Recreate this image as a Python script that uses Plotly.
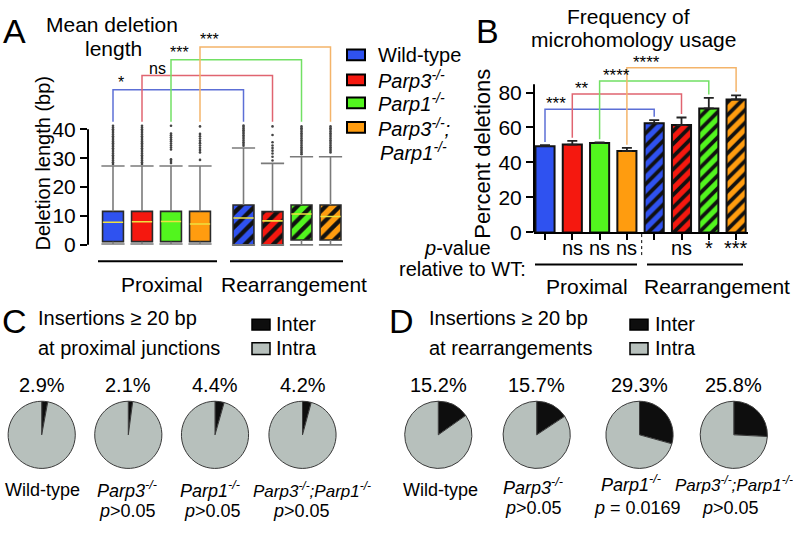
import plotly.graph_objects as go

W, H = 793, 533
FONT = "Liberation Sans, Arial, sans-serif"

# ---------------- data ----------------
genotype_labels = ["Wild-type", "<i>Parp3<sup>-/-</sup></i>", "<i>Parp1<sup>-/-</sup></i>",
                   "<i>Parp3<sup>-/-</sup>;Parp1<sup>-/-</sup></i>"]
colors = ["#2f52f0", "#f5180f", "#52f51e", "#ff9c0f"]
bracket_colors = ["#5c6fd6", "#e06470", "#72e064", "#f4b46a"]

# Panel A: deletion length box summaries (Proximal x4, Rearrangement x4)
box_low = [0.3, 0.3, 0.3, 0.3, 0.0, 0.0, 0.0, 0.0]
box_q1 = [1.1, 1.1, 1.1, 1.1, 0.0, 0.0, 1.7, 1.7]
box_med = [7.8, 8.0, 8.1, 7.2, 9.3, 8.3, 10.7, 9.8]
box_q3 = [11.6, 11.6, 11.6, 11.6, 13.8, 11.5, 13.8, 13.8]
box_high = [27.3, 27.3, 27.3, 27.3, 33.5, 28.2, 30.5, 30.5]
box_outliers = [
    [28.0, 28.6, 29.2, 29.8, 30.4, 31.0, 31.6, 32.2, 32.8, 33.4, 34.0, 34.6, 35.2, 35.8, 36.4, 37.0, 37.6, 38.2, 38.8, 39.4, 40.0, 40.6, 41.2],
    [28.0, 28.6, 29.2, 29.8, 30.4, 31.0, 31.6, 32.2, 32.8, 33.4, 34.0, 34.6, 35.2, 35.8, 36.4, 37.0, 37.6, 38.2, 38.8, 39.4, 40.0, 40.6, 41.2],
    [28.3, 29.0, 29.6, 33.0, 33.7, 34.4, 35.1, 35.8, 36.5, 37.2, 37.9, 38.5, 41.2],
    [29.4, 32.0, 32.8, 33.6, 34.4, 35.2, 36.0, 36.8, 37.6, 38.4, 41.0],
    [34.3, 34.9, 35.5, 36.1, 36.7, 37.3, 37.9, 38.5, 39.1, 39.7, 40.3, 40.9, 41.3],
    [29.2, 30.5, 31.6, 32.6, 33.5, 34.4, 35.5, 38.0, 41.0],
    [31.4, 32.0, 32.6, 33.2, 33.8, 34.4, 35.0, 35.6, 36.2, 36.8, 37.4, 38.0, 38.6, 39.2, 39.8, 40.4, 41.0],
    [32.0, 32.6, 33.2, 33.8, 34.4, 35.0, 35.6, 36.2, 36.8, 37.4, 38.0, 38.6, 39.2, 39.8, 40.4, 41.0],
]
a_sig = ["*", "ns", "***", "***"]
a_bracket_y = [53.7, 58.6, 64.1, 68.5]
a_ticks = [0, 10, 20, 30, 40]

# Panel B: microhomology usage (%)
mh_mean = [49.3, 50.2, 51.1, 46.5, 62.4, 61.4, 70.9, 76.0]
mh_err = [0.6, 2.1, 0.4, 1.8, 1.8, 4.3, 6.0, 2.4]
b_sig = ["***", "**", "****", "****"]
b_bracket_y = [70.4, 79.1, 86.6, 94.1]
b_pvals = ["", "ns", "ns", "ns", "", "ns", "*", "***"]
b_ticks = [0, 20, 40, 60, 80]

# Panels C/D: % inter-chromosomal insertions
ins_proximal = [2.9, 2.1, 4.4, 4.2]
ins_rearr = [15.2, 15.7, 29.3, 25.8]
pv_proximal = ["", "<i>p</i>>0.05", "<i>p</i>>0.05", "<i>p</i>>0.05"]
pv_rearr = ["", "<i>p</i>>0.05", "<i>p</i> = 0.0169", "<i>p</i>>0.05"]

# ---------------- helpers ----------------
def px(x):
    return x / W

def py(y):
    return 1 - y / H

fig = go.Figure()

def txt(x, y, s, size=20, xa="center", ya="middle", **kw):
    fig.add_annotation(x=px(x), y=py(y), xref="paper", yref="paper", text=s,
                       showarrow=False, xanchor=xa, yanchor=ya,
                       font=dict(size=size, color="black", family=FONT), **kw)

def hline(x0, x1, y, w=2, color="black"):
    fig.add_shape(type="line", xref="paper", yref="paper", x0=px(x0), x1=px(x1),
                  y0=py(y), y1=py(y), line=dict(color=color, width=w))

def rect(x0, x1, y0, y1, fill, lw=2):
    fig.add_shape(type="rect", xref="paper", yref="paper", x0=px(x0), x1=px(x1),
                  y0=py(y1), y1=py(y0), fillcolor=fill, line=dict(color="black", width=lw))

# ---------------- Panel A ----------------
pos_a = [0, 1, 2, 3, 4.5, 5.5, 6.5, 7.5]
box_colors = colors + colors
hatched = [False] * 4 + [True] * 4

for i in range(8):
    pat = dict(shape="/", fgcolor="#111111", bgcolor=box_colors[i], size=10,
               solidity=0.42, fillmode="replace") if hatched[i] else dict(shape="")
    fig.add_trace(go.Bar(
        x=[pos_a[i]], y=[box_q3[i] - box_q1[i]], base=[box_q1[i]], width=0.72,
        marker=dict(color=box_colors[i], line=dict(color="#2a2a2a", width=1.6), pattern=pat),
        xaxis="x", yaxis="y", showlegend=False, hoverinfo="skip"))

wx, wy = [], []
for p, q1, q3, lo, hi in zip(pos_a, box_q1, box_q3, box_low, box_high):
    wx += [p, p, None, p - 0.4, p + 0.4, None, p, p, None, p - 0.4, p + 0.4, None]
    wy += [q3, hi, None, hi, hi, None, q1, lo, None, lo, lo, None]
fig.add_trace(go.Scatter(x=wx, y=wy, mode="lines", line=dict(color="#7a7a7a", width=1.6),
                         xaxis="x", yaxis="y", showlegend=False, hoverinfo="skip"))

mx, my = [], []
for p, m in zip(pos_a, box_med):
    mx += [p - 0.35, p + 0.35, None]
    my += [m, m, None]
fig.add_trace(go.Scatter(x=mx, y=my, mode="lines", line=dict(color="#eee040", width=1.6),
                         xaxis="x", yaxis="y", showlegend=False, hoverinfo="skip"))

ox, oy = [], []
for p, vals in zip(pos_a, box_outliers):
    ox += [p] * len(vals)
    oy += vals
fig.add_trace(go.Scatter(x=ox, y=oy, mode="markers", marker=dict(size=2.6, color="#444444"),
                         xaxis="x", yaxis="y", showlegend=False, hoverinfo="skip"))

label_dx_a = [0.28, 1.52, 2.31, 3.34]
for i in range(4):
    xl, xr, h = pos_a[i], pos_a[i + 4], a_bracket_y[i]
    fig.add_trace(go.Scatter(x=[xl, xl, xr, xr], y=[42.6, h, h, 42.6], mode="lines",
                             line=dict(color=bracket_colors[i], width=1.5),
                             xaxis="x", yaxis="y", showlegend=False, hoverinfo="skip"))
    fig.add_annotation(x=label_dx_a[i], y=h, xref="x", yref="y", text=a_sig[i],
                       showarrow=False, yanchor="bottom", yshift=-3,
                       font=dict(size=16, family=FONT, color="black"))

fig.add_shape(type="line", xref="paper", yref="y", x0=px(88), x1=px(88), y0=0, y1=40,
              line=dict(color="black", width=2))

# ---------------- Panel B ----------------
pos_b = list(range(8))
for i in range(8):
    pat = dict(shape="/", fgcolor="#111111", bgcolor=box_colors[i], size=9,
               solidity=0.42, fillmode="replace") if hatched[i] else dict(shape="")
    fig.add_trace(go.Bar(
        x=[pos_b[i]], y=[mh_mean[i]], width=0.7,
        marker=dict(color=box_colors[i], line=dict(color="#111111", width=2), pattern=pat),
        error_y=dict(type="data", symmetric=False, array=[mh_err[i]], arrayminus=[0],
                     color="#222222", thickness=1.8, width=5),
        xaxis="x2", yaxis="y2", showlegend=False, hoverinfo="skip"))

label_dx_b = [0.4, 1.35, 2.63, 3.7]
for i in range(4):
    xl, xr, h = pos_b[i], pos_b[i + 4], b_bracket_y[i]
    lb = mh_mean[i] + mh_err[i] + 1.8
    rb = mh_mean[i + 4] + mh_err[i + 4] + 2.0
    fig.add_trace(go.Scatter(x=[xl, xl, xr, xr], y=[lb, h, h, rb], mode="lines",
                             line=dict(color=bracket_colors[i], width=1.5),
                             xaxis="x2", yaxis="y2", showlegend=False, hoverinfo="skip"))
    fig.add_annotation(x=label_dx_b[i], y=h, xref="x2", yref="y2", text=b_sig[i],
                       showarrow=False, yanchor="bottom", yshift=-6,
                       font=dict(size=17, family=FONT, color="black"))

fig.add_shape(type="line", xref="paper", yref="y2", x0=px(534), x1=px(534), y0=0, y1=84.7,
              line=dict(color="black", width=2))

for i, s in enumerate(b_pvals):
    if s:
        fig.add_annotation(x=pos_b[i], y=py(253), xref="x2", yref="paper", text=s,
                           showarrow=False, yanchor="middle",
                           font=dict(size=20, family=FONT, color="black"))

# ---------------- Pies C/D ----------------
r = 34.3
c_centers = [41.7, 128.3, 215.0, 302.5]
d_centers = [438.3, 536.7, 639.5, 733.8]
cy = 444
for cxs, vals in ((c_centers, ins_proximal), (d_centers, ins_rearr)):
    for cx, v in zip(cxs, vals):
        fig.add_trace(go.Pie(
            values=[v, 100 - v], sort=False, direction="clockwise", rotation=0,
            marker=dict(colors=["#0e0e0e", "#b7c0bc"], line=dict(color="#3a3a3a", width=1)),
            textinfo="none", hoverinfo="skip", showlegend=False,
            domain=dict(x=[px(cx - r), px(cx + r)], y=[py(cy + r), py(cy - r)])))

# ---------------- layout ----------------
axis_common = dict(showgrid=False, zeroline=False)
fig.update_layout(
    width=W, height=H, autosize=False, margin=dict(l=0, r=0, t=0, b=0),
    paper_bgcolor="white", plot_bgcolor="white", font=dict(family=FONT, size=20, color="black"),
    barmode="overlay",
    xaxis=dict(domain=[px(88), px(350)], range=[-0.862, 8.172], visible=False, **axis_common),
    yaxis=dict(domain=[py(260), py(20)], range=[-3.39, 77.97], tickvals=a_ticks,
               ticks="outside", ticklen=7, tickwidth=2, tickcolor="black", showline=False,
               tickfont=dict(size=21), **axis_common),
    xaxis2=dict(domain=[px(534), px(748)], range=[-0.403, 7.436], tickvals=pos_b,
                showticklabels=False, ticks="outside", ticklen=6, tickwidth=2, tickcolor="black",
                showline=True, linecolor="black", linewidth=2, anchor="y2", **axis_common),
    yaxis2=dict(domain=[py(237.3), py(55)], range=[0, 102.1], tickvals=b_ticks,
                ticks="outside", ticklen=7, tickwidth=2, tickcolor="black", showline=False,
                tickfont=dict(size=21), anchor="x2", **axis_common),
)

# ---------------- texts: Panel A ----------------
txt(14, 32, "A", size=34)
txt(112, 25, "Mean deletion", size=21)
txt(113, 50, "length", size=21)
txt(43, 167, "Deletion length (bp)", size=20, textangle=-90)
hline(98, 217, 266.7)
hline(230, 343, 266.7)
txt(162, 290, "Proximal", size=21)
txt(294, 290, "Rearrangement", size=21)
leg_y = [56, 81.5, 105, 130]
for i in range(4):
    rect(347, 365, leg_y[i] - 5.5, leg_y[i] + 5.5, colors[i])
txt(376, 56, genotype_labels[0], size=20, xa="left")
txt(376, 81.5, genotype_labels[1], size=20, xa="left")
txt(376, 105, genotype_labels[2], size=20, xa="left")
txt(376, 130, "<i>Parp3<sup>-/-</sup>;</i>", size=20, xa="left")
txt(378, 155, "<i>Parp1<sup>-/-</sup></i>", size=20, xa="left")

# ---------------- texts: Panel B ----------------
txt(487, 32, "B", size=34)
txt(628, 17, "Frequency of", size=21)
txt(633, 40, "microhomology usage", size=21)
txt(483, 157, "Percent deletions", size=22, textangle=-90)
txt(493, 253, "<i>p</i>-value", size=20, xa="right")
txt(528, 275, "relative to WT:", size=20, xa="right")
hline(535, 637, 270)
hline(647, 743, 270)
fig.add_shape(type="line", xref="paper", yref="paper", x0=px(641.7), x1=px(641.7),
              y0=py(239), y1=py(263), line=dict(color="black", width=1, dash="dot"))
txt(587, 293, "Proximal", size=21)
txt(717, 293, "Rearrangement", size=21)

# ---------------- texts: Panels C/D ----------------
txt(14, 328, "C", size=34)
txt(36, 325, "Insertions ≥ 20 bp", size=20, xa="left")
txt(36, 355, "at proximal junctions", size=20, xa="left")
rect(252, 270, 326, 337, "#0e0e0e", lw=1.5)
rect(252, 270, 350, 362, "#b7c0bc", lw=1.5)
txt(274, 331, "Inter", size=20, xa="left")
txt(274, 355, "Intra", size=20, xa="left")

txt(401, 328, "D", size=34)
txt(427, 325, "Insertions ≥ 20 bp", size=20, xa="left")
txt(427, 355, "at rearrangements", size=20, xa="left")
rect(630, 648, 326, 337, "#0e0e0e", lw=1.5)
rect(630, 648, 350, 362, "#b7c0bc", lw=1.5)
txt(653, 331, "Inter", size=20, xa="left")
txt(653, 355, "Intra", size=20, xa="left")

for cx, v in zip(c_centers, ins_proximal):
    txt(cx, 393, f"{v}%", size=20)
for cx, v in zip(d_centers, ins_rearr):
    txt(cx, 393, f"{v}%", size=20)

c_lab_x = [42, 127, 210, 312]
c_pv_x = [42, 127, 212, 301]
for i in range(4):
    txt(c_lab_x[i], 500, genotype_labels[i], size=17 if i == 3 else 18)
    if pv_proximal[i]:
        txt(c_pv_x[i], 522, pv_proximal[i], size=18)

d_lab_x = [440, 533, 631, 734]
d_lab_y = [500, 497, 494, 494]
d_pv_x = [440, 533, 637, 730]
for i in range(4):
    txt(d_lab_x[i], d_lab_y[i], genotype_labels[i], size=17 if i == 3 else 18)
    if pv_rearr[i]:
        txt(d_pv_x[i], 519, pv_rearr[i], size=18)

post = (
    "document.documentElement.style.margin='0';"
    "document.documentElement.style.overflow='hidden';"
    "document.body.style.margin='0';document.body.style.padding='0';"
    "document.body.style.overflow='hidden';"
    "var d=document.getElementById('{plot_id}');"
    "d.style.position='absolute';d.style.left='0px';d.style.top='0px';"
)
fig.write_html("out.html", config={"displayModeBar": False}, post_script=post)
